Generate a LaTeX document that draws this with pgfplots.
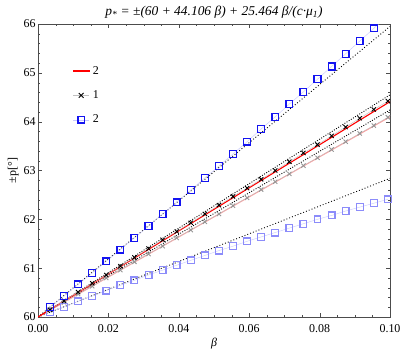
\documentclass[border=0pt]{standalone}
\usepackage{fontspec}
\setmainfont{Liberation Serif}
\usepackage{pgfplots}
\pgfplotsset{compat=1.18}
\usepackage{pgfplotstable}
\definecolor{dblue}{RGB}{20,20,240}
\definecolor{lblue}{RGB}{140,140,250}
\definecolor{llblue}{RGB}{200,200,255}
\definecolor{pinkl}{RGB}{255,160,160}
\definecolor{lgray}{RGB}{150,150,150}
\pgfplotstableread{
b up low dx lx
0.0034 60.20 60.10 60.15 60.14
0.0074 60.43 60.21 60.33 60.30
0.0114 60.67 60.32 60.51 60.47
0.0154 60.90 60.43 60.69 60.63
0.0194 61.14 60.54 60.86 60.80
0.0234 61.38 60.65 61.04 60.96
0.0274 61.62 60.75 61.22 61.13
0.0314 61.86 60.86 61.40 61.29
0.0354 62.11 60.96 61.58 61.45
0.0394 62.35 61.06 61.75 61.62
0.0434 62.60 61.16 61.93 61.78
0.0474 62.85 61.26 62.11 61.95
0.0514 63.09 61.36 62.29 62.11
0.0554 63.34 61.45 62.47 62.28
0.0594 63.59 61.55 62.64 62.44
0.0634 63.85 61.64 62.82 62.61
0.0674 64.10 61.73 63.00 62.77
0.0714 64.36 61.82 63.18 62.93
0.0754 64.61 61.91 63.36 63.10
0.0794 64.87 62.00 63.53 63.26
0.0834 65.13 62.08 63.71 63.43
0.0874 65.39 62.17 63.89 63.59
0.0914 65.65 62.25 64.07 63.76
0.0954 65.91 62.33 64.25 63.92
0.0994 66.18 62.41 64.42 64.09
}\data
\begin{document}
\begin{tikzpicture}
\begin{axis}[
  scale only axis, width=352bp, height=293bp,
  xmin=0, xmax=0.1, ymin=60, ymax=66,
  clip=true,
  axis line style={black!70},
  tick align=inside,
  xtick={0,0.02,0.04,0.06,0.08,0.1},
  minor x tick num=3,
  ytick={60,61,62,63,64,65,66},
  minor y tick num=4,
  major tick length=4bp, minor tick length=2bp,
  tick style={black!70},
  xticklabel style={yshift=-4bp, /pgf/number format/.cd, fixed, fixed zerofill, precision=2},
  /pgf/number format/assume math mode=true,
  scaled x ticks=false,
  ticklabel style={font=\fontsize{12}{14}\selectfont},
  yticklabel style={xshift=1bp},
  xlabel={\textit{β}},
  ylabel={±p[°]},
  label style={font=\fontsize{12}{14}\selectfont},
  xlabel style={yshift=1bp},
  ylabel style={yshift=-2bp},
  title={\textit{p\textsubscript{*} = ±(60 + 44.106 β) + 25.464 β/(c·μ\textsubscript{1})}},
  title style={font=\fontsize{13.5}{15}\selectfont, yshift=-4bp},
  legend style={at={(0.09,0.87)}, anchor=north west, draw=none, fill=none,
    font=\fontsize{12}{14}\selectfont, row sep=11bp},
  legend cell align=left,
]
% dotted reference lines
\addplot[black, line width=0.9bp, dash pattern=on 0.9bp off 2.1bp, forget plot] coordinates {(0,60) (0.1,65.95)};
\addplot[black, line width=0.9bp, dash pattern=on 0.9bp off 2.1bp, forget plot] coordinates {(0,60) (0.1,62.84)};
\addplot[black, line width=0.9bp, dash pattern=on 0.9bp off 1.6bp, forget plot] coordinates {(0,60) (0.1,64.55)};
\addplot[black, line width=0.9bp, dash pattern=on 0.9bp off 1.6bp, forget plot] coordinates {(0,60) (0.1,64.24)};
% pink line and light x
\addplot[pinkl, line width=1.1bp, forget plot] coordinates {(0,60) (0.1,64.10)};
\addplot[lgray!60, thin, mark=x, mark options={lgray, solid, line width=0.9bp, scale=1.5}, forget plot] table[x=b,y=lx] {\data};
% lower light squares
\addplot[llblue, thin, mark=square, mark options={lblue, solid, line width=1.2bp, scale=1.7}, forget plot] table[x=b,y=low] {\data};
% red line
\addplot[red, line width=1.1bp] coordinates {(0,60) (0.1,64.41)};
\addlegendentry{2}
% dark x
\addplot[lgray!60, thin, mark=x, mark options={black, solid, line width=0.9bp, scale=1.5},
  legend image code/.code={\draw[lgray!60, thin] (0cm,0cm) -- (0.55cm,0cm);
    \draw[black, line width=0.9bp] (0.19cm,-0.085cm) -- (0.36cm,0.085cm) (0.19cm,0.085cm) -- (0.36cm,-0.085cm);}] table[x=b,y=dx] {\data};
\addlegendentry{1}
% upper dark squares
\addplot[llblue, thin, mark=square, mark options={dblue, solid, line width=1.3bp, scale=1.7},
  legend image code/.code={\draw[llblue, thin] (0cm,0cm) -- (0.55cm,0cm);
    \draw[dblue, line width=1.3bp] (0.16cm,-0.115cm) rectangle (0.39cm,0.115cm);}] table[x=b,y=up] {\data};
\addlegendentry{2}
\end{axis}
\pgfresetboundingbox
\path[use as bounding box] ([shift={(-38bp,-40bp)}]current axis.south west) rectangle ([shift={(12bp,24bp)}]current axis.north east);
\end{tikzpicture}
\end{document}
